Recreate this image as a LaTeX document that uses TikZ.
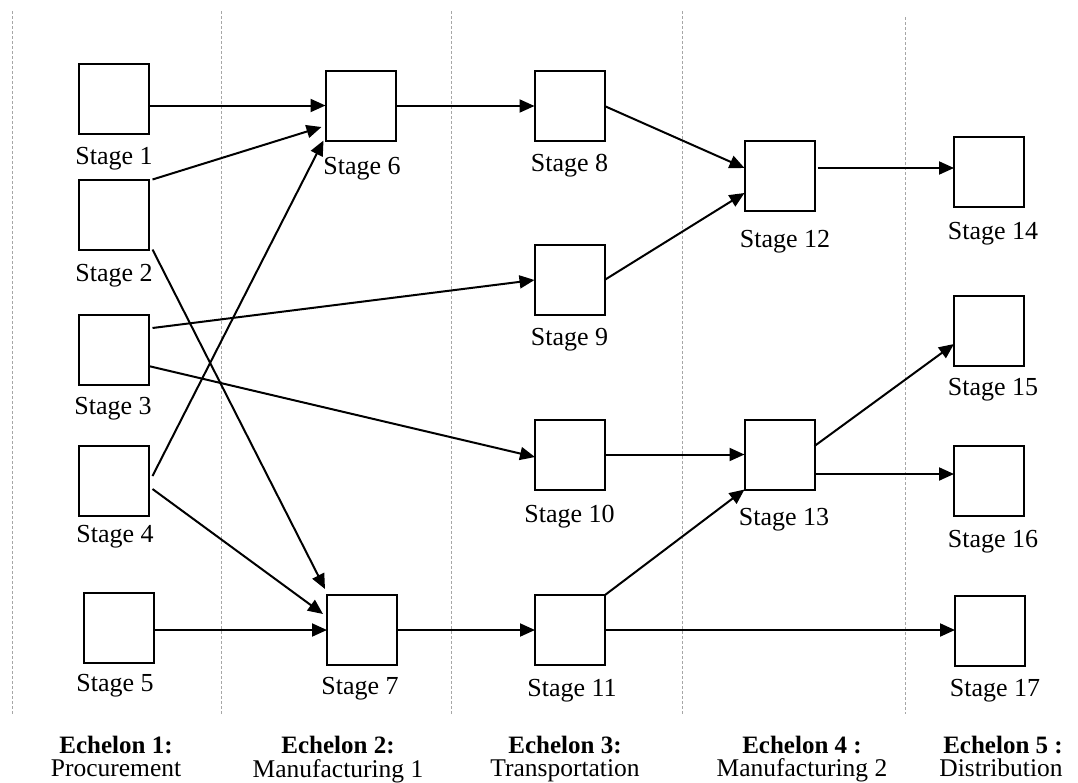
\documentclass[tikz,border=0pt]{standalone}
\usepackage{fontspec}
\setmainfont{Liberation Serif}
\usetikzlibrary{arrows.meta}
\begin{document}
\begin{tikzpicture}[x=1pt,y=-1pt,
  box/.style={draw,line width=2pt,minimum width=70pt,minimum height=70pt,inner sep=0pt,outer sep=0pt},
  lbl/.style={font=\fontsize{26}{30}\selectfont,inner sep=0pt,anchor=base},
  echb/.style={font=\fontsize{25}{30}\selectfont\bfseries,inner sep=0pt,anchor=base},
  echr/.style={font=\fontsize{25.5}{30}\selectfont,inner sep=0pt,anchor=base},
  arr/.style={line width=2pt,-{Triangle[length=15pt,width=13pt]}},
  sep/.style={draw=black!35,line width=1pt,dash pattern=on 3pt off 2pt}]
\useasboundingbox (0,0) rectangle (1078,782);
\fill[white] (0,0) rectangle (1078,782);
% separators
\draw[sep] (12,11) -- (12,714);
\draw[sep] (221,11) -- (221,714);
\draw[sep] (451,11) -- (451,714);
\draw[sep] (682,11) -- (682,714);
\draw[sep] (905,17) -- (905,714);
% boxes
\node[box] (s1) at (113.5,99) {};
\node[box] (s2) at (113.5,214.5) {};
\node[box] (s3) at (113.5,350) {};
\node[box] (s4) at (113.5,481) {};
\node[box] (s5) at (118.5,627.5) {};
\node[box] (s6) at (360.5,105.5) {};
\node[box] (s7) at (362,630) {};
\node[box] (s8) at (569.5,106) {};
\node[box] (s9) at (569.5,280) {};
\node[box] (s10) at (570,454.5) {};
\node[box] (s11) at (570,630) {};
\node[box] (s12) at (779.5,176) {};
\node[box] (s13) at (779.5,454.5) {};
\node[box] (s14) at (989,171.5) {};
\node[box] (s15) at (989,331) {};
\node[box] (s16) at (989,481) {};
\node[box] (s17) at (990,630.5) {};
% labels
\node[lbl] (l1) at (114,164) {Stage 1};
\node[lbl] (l2) at (114,281) {Stage 2};
\node[lbl] (l3) at (113,414) {Stage 3};
\node[lbl] (l4) at (115,542) {Stage 4};
\node[lbl] (l5) at (115,691) {Stage 5};
\node[lbl] (l6) at (362,174) {Stage 6};
\node[lbl] (l7) at (360,694) {Stage 7};
\node[lbl] (l8) at (569.5,171) {Stage 8};
\node[lbl] (l9) at (569.5,345) {Stage 9};
\node[lbl] (l10) at (569.5,522) {Stage 10};
\node[lbl] (l11) at (572,696) {Stage 11};
\node[lbl] (l12) at (785,247) {Stage 12};
\node[lbl] (l13) at (784,525) {Stage 13};
\node[lbl] (l14) at (993,239) {Stage 14};
\node[lbl] (l15) at (993,395) {Stage 15};
\node[lbl] (l16) at (993,547) {Stage 16};
\node[lbl] (l17) at (995,696) {Stage 17};
% echelons
\node[echb] (e1) at (116,753) {Echelon 1:};
\node[echr] (p1) at (116,776) {Procurement};
\node[echb] (e2) at (338,753.5) {Echelon 2:};
\node[echr] (p2) at (338,777) {Manufacturing 1};
\node[echb] (e3) at (565,753) {Echelon 3:};
\node[echr] (p3) at (565,776) {Transportation};
\node[echb] (e4) at (802,753) {Echelon 4 :};
\node[echr] (p4) at (802,776) {Manufacturing 2};
\node[echb] (e5) at (1003,753) {Echelon 5 :};
\node[echr] (p5) at (1001,776) {Distribution};
% helper coordinates
\coordinate (a12) at ([xshift=3pt,yshift=8pt]s12.east);
\coordinate (b13) at ([yshift=-19.5pt]s13.east);
% connectors
\draw[arr] (s1.east |- s6.west) -- (s6.west);
\draw[arr] ([xshift=4pt]s2.north east) -- ([xshift=-4pt,yshift=-21.5pt]s6.west);
\draw[arr] ([xshift=4pt,yshift=5pt]s4.east) -- ([xshift=-2pt]s6.south west);
\draw[arr] ([xshift=4pt]s2.south east) -- ([xshift=-2pt,yshift=6pt]s7.north west);
\draw[arr] ([xshift=4pt,yshift=22pt]s3.east) -- (s9.west);
\draw[arr] ([yshift=-16pt]s3.east) -- ([yshift=-2.5pt]s10.west);
\draw[arr] ([xshift=4pt,yshift=-8pt]s4.east) -- ([xshift=-4pt,yshift=16pt]s7.west);
\draw[arr] (s5.east |- s7.west) -- (s7.west);
\draw[arr] (s6.east |- s8.west) -- (s8.west);
\draw[arr] (s7.east) -- (s11.west);
\draw[arr] (s8.east) -- ([yshift=8pt]s12.west);
\draw[arr] (s9.east) -- ([yshift=-17pt]s12.west);
\draw[arr] (a12) -- (a12 -| s14.west);
\draw[arr] (s10.east) -- (s13.west);
\draw[arr] (s11.north east) -- (s13.south west);
\draw[arr] ([yshift=8.5pt]s13.east) -- ([yshift=-13pt]s15.west);
\draw[arr] (b13) -- (b13 -| s16.west);
\draw[arr] (s11.east) -- (s11.east -| s17.west);
\end{tikzpicture}
\end{document}
